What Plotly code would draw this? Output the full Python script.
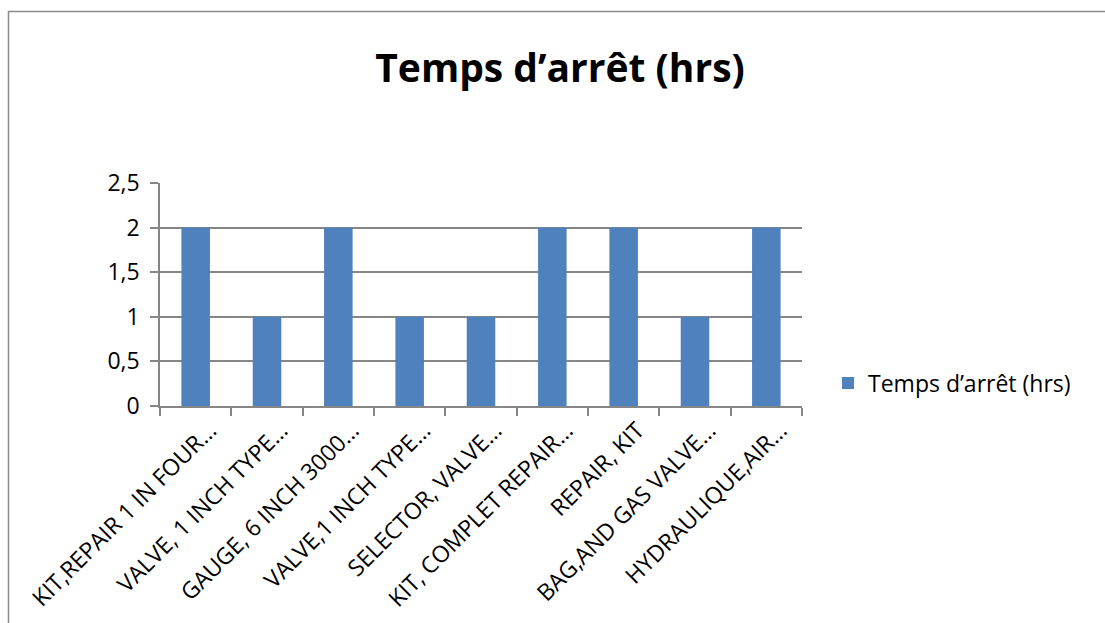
import plotly.graph_objects as go

# Downtime per spare part (hours)
categories = [
    "KIT,REPAIR 1 IN FOUR…",
    "VALVE, 1 INCH TYPE…",
    "GAUGE, 6 INCH 3000…",
    "VALVE,1 INCH TYPE…",
    "SELECTOR, VALVE…",
    "KIT, COMPLET REPAIR…",
    "REPAIR, KIT",
    "BAG,AND GAS VALVE…",
    "HYDRAULIQUE,AIR…",
]
downtime_hrs = [2, 1, 2, 1, 1, 2, 2, 1, 2]
series_name = "Temps d’arrêt (hrs)"
y_ticks = [0, 0.5, 1, 1.5, 2, 2.5]

W, H = 1105, 623
L, R, T, B = 160, 303, 183, 217
pw, ph = W - L - R, H - T - B

FONT = "Open Sans"
GRID = "#868686"

fig = go.Figure()
fig.add_trace(go.Bar(
    x=categories,
    y=downtime_hrs,
    name=series_name,
    marker=dict(color="#4F81BD", line=dict(width=0)),
    showlegend=True,
))

def px_x(p):
    return (p - L) / pw

def px_y(p):
    return (H - B - p) / ph

fig.update_layout(
    width=W,
    height=H,
    margin=dict(l=L, r=R, t=T, b=B, autoexpand=False),
    paper_bgcolor="white",
    plot_bgcolor="white",
    separators=", ",
    font=dict(family=FONT, size=23, color="black"),
    bargap=0.6,
    title=dict(
        text="<b>Temps d’arrêt (hrs)</b>",
        x=560 / W,
        xanchor="center",
        y=1 - 68 / H,
        yanchor="middle",
        font=dict(family=FONT, size=39, color="black"),
    ),
    legend=dict(
        x=px_x(828),
        y=px_y(383),
        xanchor="left",
        yanchor="middle",
        font=dict(family=FONT, size=23, color="black"),
        bgcolor="rgba(0,0,0,0)",
        itemwidth=30,
    ),
    xaxis=dict(
        type="category",
        showline=True,
        linecolor=GRID,
        linewidth=1.5,
        ticks="outside",
        tickson="boundaries",
        ticklen=8,
        tickcolor=GRID,
        tickwidth=1.5,
        tickangle=-45,
        showgrid=False,
        automargin=False,
        tickfont=dict(family=FONT, size=23, color="black"),
        ticklabelshift=14,
    ),
    yaxis=dict(
        range=[0, 2.5],
        tickvals=y_ticks,
        showline=True,
        linecolor=GRID,
        linewidth=1.5,
        ticks="outside",
        ticklen=8,
        tickcolor=GRID,
        tickwidth=1.5,
        showgrid=True,
        gridcolor=GRID,
        gridwidth=1.5,
        zeroline=False,
        automargin=False,
        tickfont=dict(family=FONT, size=23, color="black"),
        ticklabelstandoff=6,
    ),
)

# Outer chart frame
fig.add_shape(
    type="rect",
    xref="paper", yref="paper",
    x0=px_x(8.5), x1=px_x(1200),
    y0=px_y(700), y1=px_y(11.5),
    line=dict(color="#8C8C8C", width=1.5),
    fillcolor="rgba(0,0,0,0)",
    layer="below",
)

fig.write_html("out.html")
